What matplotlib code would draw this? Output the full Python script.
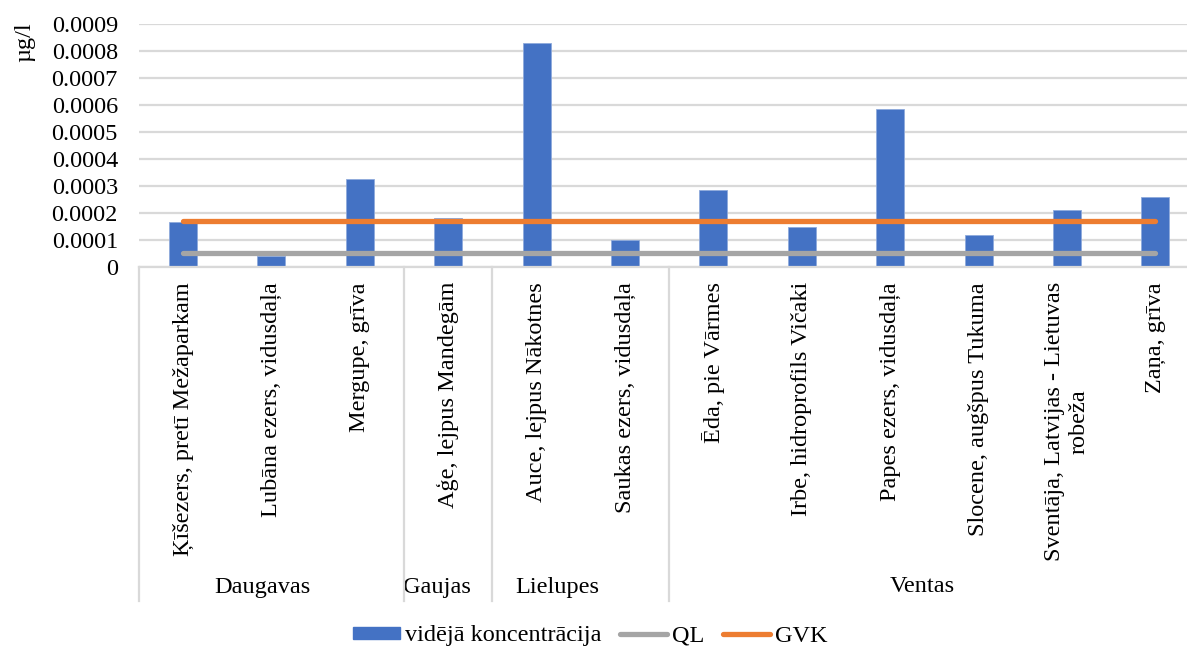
import matplotlib
matplotlib.use("Agg")
import matplotlib.pyplot as plt
import matplotlib.transforms as mtransforms
from matplotlib.lines import Line2D
from matplotlib.patches import Patch
import numpy as np

plt.rcParams['font.family'] = ['Liberation Serif', 'DejaVu Serif']
FS = 17.5

# Monitoring stations grouped by river basin
groups = ["Daugavas", "Gaujas", "Lielupes", "Ventas"]
group_sizes = [3, 1, 2, 6]
stations = [
    "Ķīšezers, pretī Mežaparkam",
    "Lubāna ezers, vidusdaļa",
    "Mergupe, grīva",
    "Aģe, lejpus Mandegām",
    "Auce, lejpus Nākotnes",
    "Saukas ezers, vidusdaļa",
    "Ēda, pie Vārmes",
    "Irbe, hidroprofils Vičaki",
    "Papes ezers, vidusdaļa",
    "Slocene, augšpus Tukuma",
    "Sventāja, Latvijas - Lietuvas\nrobeža",
    "Zaņa, grīva",
]
mean_conc = [0.000167, 0.00004, 0.000325, 0.00018, 0.00083, 0.0001,
             0.000283, 0.000148, 0.000584, 0.000116, 0.000211, 0.00026]
ql = [0.00005] * len(stations)
gvk = [0.00017] * len(stations)
yticks = [0, 0.0001, 0.0002, 0.0003, 0.0004, 0.0005, 0.0006, 0.0007, 0.0008, 0.0009]
ytick_labels = ["0", "0.0001", "0.0002", "0.0003", "0.0004", "0.0005",
                "0.0006", "0.0007", "0.0008", "0.0009"]

W, H = 1187, 647
fig = plt.figure(figsize=(W / 100, H / 100), dpi=100)
ax = fig.add_axes([138.8 / W, 1 - 266.7 / H, (1199.6 - 138.8) / W, (266.7 - 24) / H])

x = np.arange(len(stations))
blue, grey, orange = "#4472C4", "#A5A5A5", "#ED7D31"
grid_c = "#D9D9D9"

ax.bar(x, mean_conc, width=0.317, color=blue, edgecolor="#8FAADC", linewidth=0.6, zorder=2)
ax.plot(x, ql, color=grey, lw=3.8, solid_capstyle="round", zorder=3)
ax.plot(x, gvk, color=orange, lw=3.8, solid_capstyle="round", zorder=3)

ax.set_xlim(-0.5, len(stations) - 0.5)
ax.set_ylim(0, 0.0009)
ax.set_yticks(yticks)
ax.set_yticklabels(ytick_labels, fontsize=FS)
ax.tick_params(axis="y", length=0, pad=15)
ax.set_xticks([])
ax.yaxis.grid(True, color=grid_c, lw=1.6, zorder=0)
ax.set_axisbelow(True)
for s in ["left", "right", "top"]:
    ax.spines[s].set_visible(False)
ax.spines["bottom"].set_color(grid_c)
ax.spines["bottom"].set_linewidth(1.6)

# Station labels (rotated) below the axis
trans = mtransforms.blended_transform_factory(ax.transData, fig.transFigure)
label_top = 1 - 282 / H
for xi, name in zip(x, stations):
    ax.text(xi, label_top, name, transform=trans, rotation=90, ha="center", va="top",
            multialignment="center", fontsize=FS, linespacing=1.25, clip_on=False)

# Basin dividers and basin labels
bounds = np.concatenate([[0], np.cumsum(group_sizes)]) - 0.5
y_top, y_bot = 1 - 267 / H, 1 - 601 / H
for b in bounds:
    fig.add_artist(Line2D([b, b], [y_top, y_bot], transform=trans, color=grid_c, lw=1.6))
label_shift = [-0.1, -0.13, -0.27, -0.14]
for g, lo, hi, dx in zip(groups, bounds[:-1], bounds[1:], label_shift):
    ax.text((lo + hi) / 2 + dx, 1 - 587 / H, g, transform=trans, ha="center", va="center",
            fontsize=FS, clip_on=False)

fig.text(25 / W, 1 - 22 / H, "µg/l", rotation=90, ha="center", va="top", fontsize=FS)

handles = [Patch(facecolor=blue, edgecolor=blue),
           Line2D([0], [0], color=grey, lw=3.8, solid_capstyle="round"),
           Line2D([0], [0], color=orange, lw=3.8, solid_capstyle="round")]
fig.legend(handles, ["vidējā koncentrācija", "QL", "GVK"], loc="center",
           bbox_to_anchor=(590 / W, 1 - 636 / H), ncol=3, frameon=False, fontsize=FS,
           handlelength=1.95, handleheight=0.4, handletextpad=0.2, columnspacing=0.75,
           borderaxespad=0, borderpad=0)

fig.savefig("out.png", dpi=100)
